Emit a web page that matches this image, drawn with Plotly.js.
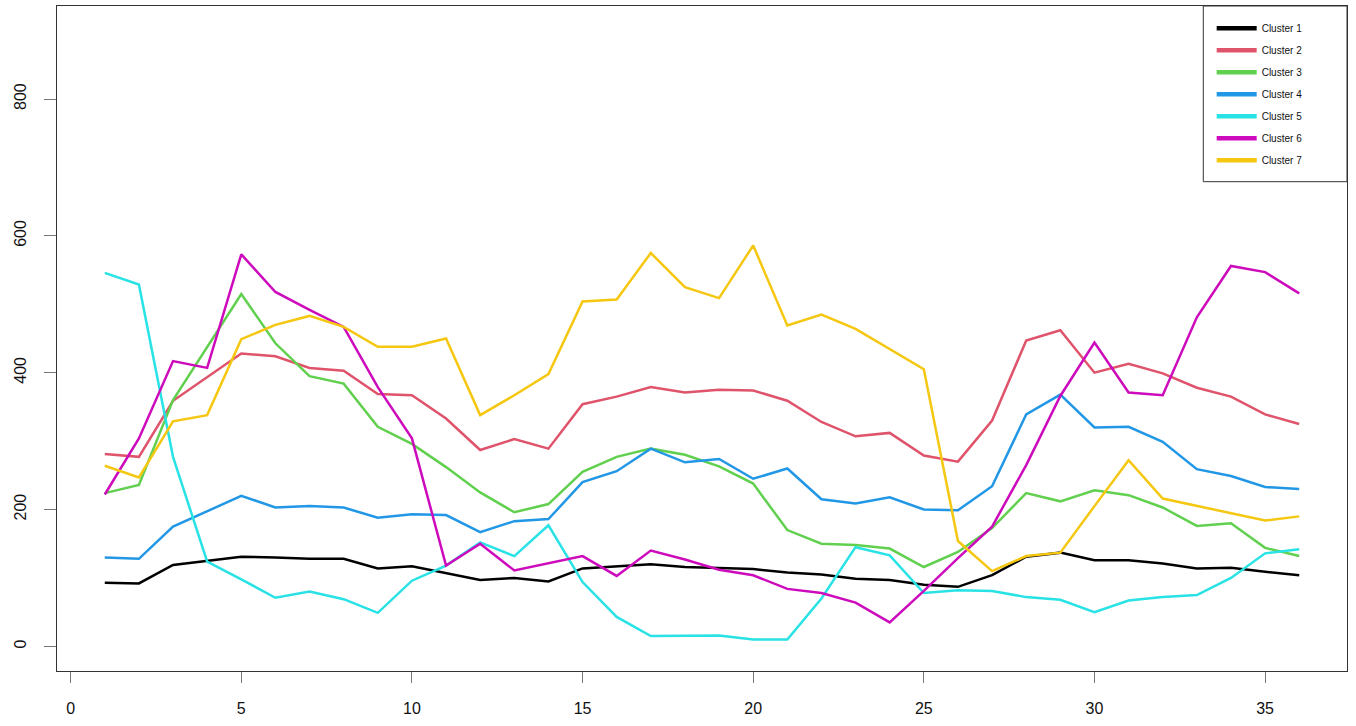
<!DOCTYPE html>
<html>
<head>
<meta charset="utf-8">
<script src="https://cdn.plot.ly/plotly-3.0.1.min.js"></script>
<style>html,body{margin:0;padding:0;background:#fff;}#chart{width:1356px;height:726px;}</style>
</head>
<body>
<div id="chart"></div>
<script>
var xValues = [1,2,3,4,5,6,7,8,9,10,11,12,13,14,15,16,17,18,19,20,21,22,23,24,25,26,27,28,29,30,31,32,33,34,35,36];
var clusterNames = ["Cluster 1","Cluster 2","Cluster 3","Cluster 4","Cluster 5","Cluster 6","Cluster 7"];
var cluster1 = [93,92,119,125,131,130,128,128,114,117,107,97,100,95,114,117,120,116,115,113,108,105,99,97,90,87,104,131,137,126,126,121,114,115,109,104];
var cluster2 = [281,277,359,394,428,424,407,403,369,367,333,287,303,289,354,365,379,371,375,374,359,328,307,312,279,270,330,447,462,400,413,399,378,365,339,325];
var cluster3 = [224,236,360,438,515,443,395,384,321,296,262,225,196,208,255,277,289,280,263,238,170,150,148,143,116,138,173,224,212,228,221,203,176,180,144,132];
var cluster4 = [130,128,175,197,220,203,205,203,188,193,192,167,183,186,240,256,289,269,274,245,260,215,209,218,200,199,234,339,368,320,321,299,259,249,233,230];
var cluster5 = [546,529,277,124,98,71,80,69,49,96,118,152,132,177,94,43,15,16,16,10,10,70,145,133,78,82,81,72,68,50,67,72,75,100,136,142];
var cluster6 = [222,304,417,407,573,518,492,467,379,304,118,150,111,121,132,103,140,127,112,104,84,78,64,35,81,129,175,265,366,444,371,367,481,556,547,516];
var cluster7 = [264,247,329,338,449,470,483,467,438,438,450,338,367,398,504,507,575,525,509,586,469,485,464,435,405,154,110,132,137,205,272,216,205,195,184,190];
var seriesList = [cluster1,cluster2,cluster3,cluster4,cluster5,cluster6,cluster7];
var colors = ["#000000","#DF536B","#61D04F","#2297E6","#28E2E5","#CD0BBC","#F5C710"];

var traces = [];
seriesList.forEach(function(vals, i){
  traces.push({x: xValues, y: vals, type: 'scatter', mode: 'lines', name: clusterNames[i],
    line: {color: colors[i], width: 2.5}, showlegend: false, hoverinfo: 'x+y'});
});
clusterNames.forEach(function(n, i){
  traces.push({x: [null], y: [null], type: 'scatter', mode: 'lines', name: n,
    legendgroup: 'g' + i, line: {color: colors[i], width: 4.5}, showlegend: true});
});

var tickFont = {family: 'Liberation Sans, Arial, sans-serif', size: 16, color: '#111'};
var layout = {
  width: 1356, height: 726,
  margin: {l: 57, r: 9, t: 6, b: 55},
  paper_bgcolor: '#fff', plot_bgcolor: '#fff',
  showlegend: true,
  legend: {x: 0.8951, y: 0.9883, xanchor: 'left', yanchor: 'top', bgcolor: 'rgba(0,0,0,0)',
    borderwidth: 0, font: {family: 'Liberation Sans, Arial, sans-serif', size: 10, color: '#111'},
    tracegroupgap: 3, itemwidth: 40, traceorder: 'grouped'},
  xaxis: {range: [-0.4, 37.4], tick0: 0, dtick: 5, ticks: 'outside', ticklen: 11, tickcolor: '#777',
    tickwidth: 1, showline: true, mirror: true, linecolor: '#333', linewidth: 1, showgrid: false,
    zeroline: false, tickfont: tickFont, ticklabelstandoff: 12},
  yaxis: {range: [-36, 936], tick0: 0, dtick: 200, ticks: 'outside', ticklen: 12, tickcolor: '#777',
    tickwidth: 1, showline: true, mirror: true, linecolor: '#333', linewidth: 1, showgrid: false,
    zeroline: false, tickangle: -90, tickfont: tickFont, ticklabelstandoff: 12},
  shapes: [{type: 'rect', xref: 'paper', yref: 'paper', x0: 0.8886, x1: 1.0, y0: 0.7358, y1: 1.0,
    line: {color: '#333', width: 1}, fillcolor: 'rgba(0,0,0,0)'}]
};
Plotly.newPlot('chart', traces, layout, {displayModeBar: false, staticPlot: true});
</script>
</body>
</html>
